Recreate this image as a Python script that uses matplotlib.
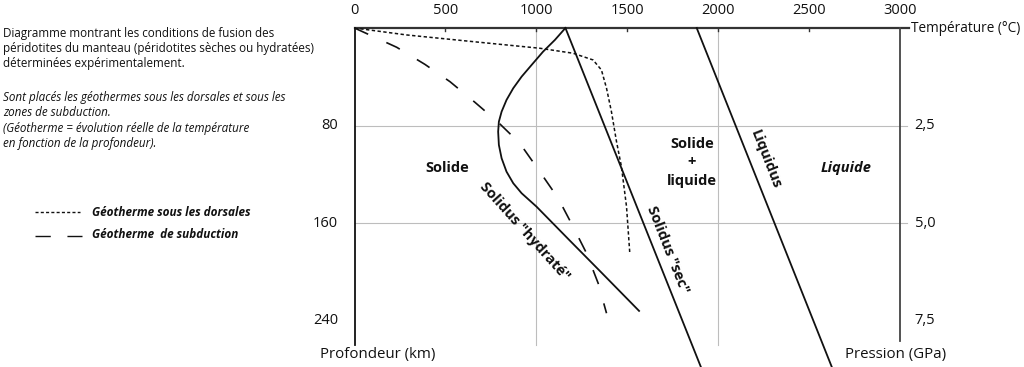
import matplotlib
matplotlib.use("Agg")
import matplotlib.pyplot as plt
from matplotlib.lines import Line2D

plt.rcParams['font.family'] = ['Open Sans', 'DejaVu Sans']

# data: temperature (°C) vs depth (km)
solidus_hyd_T = [1160, 1102, 1037, 974, 919, 873, 836, 809, 794, 790, 794, 809, 836, 873,
                 919, 1001, 1182, 1361, 1565]
solidus_hyd_d = [0, 9.8, 19.4, 30.3, 39.9, 49.4, 59, 68.6, 76.8, 85, 95.9, 106.8, 117.8, 127.3,
                 135.5, 146.5, 174, 201, 232]
solidus_sec_T = [1160, 1905]
solidus_sec_d = [0, 278]
liquidus_T = [1882, 2625]
liquidus_d = [0, 278]
geo_dorsale_T = [0, 287, 653, 1019, 1202, 1312, 1358, 1386, 1413, 1441, 1468, 1496, 1514]
geo_dorsale_d = [0, 5.7, 11.2, 16.6, 20.7, 26.2, 34.4, 49.4, 68.6, 93.2, 113.7, 146.5, 184.7]
geo_subd_T = [0, 232, 387, 525, 662, 790, 909, 1019, 1120, 1202, 1276, 1340, 1386]
geo_subd_d = [0, 15.8, 29.8, 44, 60.9, 77.3, 94.5, 117.8, 139.6, 162.9, 184.7, 209.3, 233.9]

temp_ticks = [0, 500, 1000, 1500, 2000, 2500, 3000]
depth_ticks = [80, 160, 240]
press_labels = ['2,5', '5,0', '7,5']

W, H = 1024, 367
fig = plt.figure(figsize=(W / 100, H / 100), dpi=100)
ax = fig.add_axes([354.5 / W, 0, (900 - 354.5) / W, 1 - 28 / H])
ax.set_xlim(0, 3000)
ax.set_ylim(278, 0)
ax.axis('off')

ink = '#111111'
grid = '#bdbdbd'

## grid lines
for t in [1000, 2000]:
    ax.plot([t, t], [0, 260], color=grid, lw=0.8, clip_on=False, zorder=1)
for d in [80, 160]:
    ax.plot([0, 3040], [d, d], color=grid, lw=0.8, clip_on=False, zorder=1)

## frame: top temperature axis, left depth axis, right pressure axis
ax.plot([0, 3050], [0, 0], color='#333333', lw=1.6, clip_on=False, zorder=3)
ax.plot([0, 0], [0, 260], color=ink, lw=1.3, clip_on=False, zorder=3)
ax.plot([3000, 3000], [0, 257], color='#444444', lw=1.3, clip_on=False, zorder=3)
for t in temp_ticks[1:-1]:
    ax.plot([t, t], [0, 2.5], color='#333333', lw=1.0, clip_on=False, zorder=3)

## curves
ax.plot(solidus_hyd_T, solidus_hyd_d, color=ink, lw=1.3, clip_on=False, zorder=4)
ax.plot(solidus_sec_T, solidus_sec_d, color=ink, lw=1.3, clip_on=False, zorder=4)
ax.plot(liquidus_T, liquidus_d, color=ink, lw=1.3, clip_on=False, zorder=4)
ax.plot(geo_dorsale_T, geo_dorsale_d, color=ink, lw=1.1, ls=(0, (2.2, 1.6)), zorder=4)
ax.plot(geo_subd_T, geo_subd_d, color=ink, lw=1.2, ls=(0, (9, 12)), zorder=4)

## tick labels
for t in temp_ticks:
    ax.text(t, -14.5, str(t), ha='center', va='center', fontsize=10.5, color=ink)
for d, p in zip(depth_ticks, press_labels):
    ax.text(-90, d, str(d), ha='right', va='center', fontsize=10.5, color=ink)
    ax.text(3080, d, p, ha='left', va='center', fontsize=10.5, color=ink)
ax.text(3060, 0, 'Température (°C)', ha='left', va='center', fontsize=9.8, color=ink)
ax.text(-190, 268, 'Profondeur (km)', ha='left', va='center', fontsize=10.8, color=ink)
ax.text(2700, 268, 'Pression (GPa)', ha='left', va='center', fontsize=10.8, color=ink)

## field and curve labels
ax.text(508, 115, 'Solide', ha='center', va='center', fontsize=10.5, fontweight='bold', color=ink)
ax.text(1855, 110, 'Solide\n+\nliquide', ha='center', va='center', fontsize=10.5,
        fontweight='bold', color=ink, linespacing=1.4)
ax.text(2706, 115, 'Liquide', ha='center', va='center', fontsize=10.5, fontweight='bold',
        style='italic', color=ink)
ax.text(2262, 108, 'Liquidus', ha='center', va='center', fontsize=10.5, fontweight='bold',
        color=ink, rotation=-68.5, rotation_mode='anchor')
ax.text(1725, 182, 'Solidus "sec"', ha='center', va='center', fontsize=10.5, fontweight='bold',
        color=ink, rotation=-68.5, rotation_mode='anchor')
ax.text(935, 167, 'Solidus "hydraté"', ha='center', va='center', fontsize=10.5, fontweight='bold',
        color=ink, rotation=-48, rotation_mode='anchor')

## explanatory text on the left
intro = ['Diagramme montrant les conditions de fusion des',
         'péridotites du manteau (péridotites sèches ou hydratées)',
         'déterminées expérimentalement.']
notes = ['Sont placés les géothermes sous les dorsales et sous les',
         'zones de subduction.',
         '(Géotherme = évolution réelle de la température',
         'en fonction de la profondeur).']
for i, line in enumerate(intro):
    fig.text(3 / W, 1 - (33 + 15.5 * i) / H, line, ha='left', va='center', fontsize=8.35, color=ink)
for i, line in enumerate(notes):
    fig.text(3 / W, 1 - (97 + 15.5 * i) / H, line, ha='left', va='center', fontsize=8.4,
             style='italic', color=ink)

## legend
fig.add_artist(Line2D([35 / W, 80 / W], [1 - 212 / H] * 2, color=ink, lw=1.0, ls=(0, (2.2, 1.6))))
fig.add_artist(Line2D([35 / W, 82 / W], [1 - 236 / H] * 2, color=ink, lw=1.0, ls=(0, (11, 12))))
fig.text(92 / W, 1 - 212 / H, 'Géotherme sous les dorsales', ha='left', va='center', fontsize=8.5,
         fontweight='bold', style='italic', color=ink)
fig.text(92 / W, 1 - 235 / H, 'Géotherme  de subduction', ha='left', va='center', fontsize=8.5,
         fontweight='bold', style='italic', color=ink)

fig.savefig('out.png', dpi=100)
